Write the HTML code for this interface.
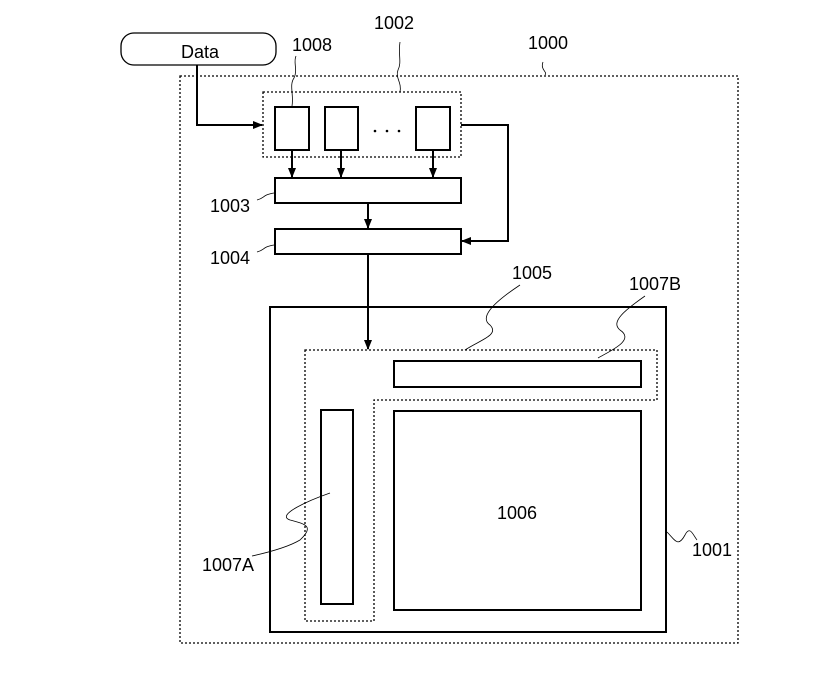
<!DOCTYPE html>
<html><head><style>
body{margin:0;background:#fff}
text{font-family:"Liberation Sans",sans-serif;font-size:18px;fill:#000}
</style></head><body>
<svg width="815" height="673" viewBox="0 0 815 673" xmlns="http://www.w3.org/2000/svg">
<defs><marker id="a" markerWidth="10" markerHeight="10" refX="9" refY="5" orient="auto" markerUnits="userSpaceOnUse"><path d="M0,1 L10,5 L0,9 z" fill="#000"/></marker></defs>
<g fill="none" stroke="#000">
<rect x="180" y="76" width="558" height="567" stroke-dasharray="2,2" stroke-width="1.3"/>
<rect x="121" y="33" width="155" height="32" rx="13" stroke-width="1.3"/>
<rect x="263" y="92" width="198" height="65" stroke-dasharray="2,2" stroke-width="1.3"/>
<rect x="275" y="107" width="34" height="43" stroke-width="2"/>
<rect x="325" y="107" width="33" height="43" stroke-width="2"/>
<rect x="416" y="107" width="34" height="43" stroke-width="2"/>
<rect x="275" y="178" width="186" height="25" stroke-width="2"/>
<rect x="275" y="229" width="186" height="25" stroke-width="2"/>
<path d="M197,65 V125 H262" stroke-width="2" marker-end="url(#a)"/>
<path d="M292,150 V177" stroke-width="2" marker-end="url(#a)"/>
<path d="M341,150 V177" stroke-width="2" marker-end="url(#a)"/>
<path d="M433,150 V177" stroke-width="2" marker-end="url(#a)"/>
<path d="M368,203 V228" stroke-width="2" marker-end="url(#a)"/>
<path d="M461,125 H508 V241 H462" stroke-width="2" marker-end="url(#a)"/>
<rect x="270" y="307" width="396" height="325" stroke-width="2"/>
<path d="M368,254 V349" stroke-width="2" marker-end="url(#a)"/>
<path d="M305,350 H657 V400 H374 V621 H305 Z" stroke-dasharray="2,2" stroke-width="1.3"/>
<rect x="394" y="361" width="247" height="26" stroke-width="2"/>
<rect x="321" y="410" width="32" height="194" stroke-width="2"/>
<rect x="394" y="411" width="247" height="199" stroke-width="2"/>
<path d="M292,106 C294,95 289,85 294,78 C298,70 293,62 296,56" stroke-width="0.8"/>
<path d="M400,92 C402,82 395,78 398,70 C402,62 398,55 400,42" stroke-width="0.8"/>
<path d="M543,62 C540,70 548,72 545,75" stroke-width="0.8"/>
<path d="M257,200 C265,198 262,195 274,193" stroke-width="0.8"/>
<path d="M257,252 C265,250 262,247 274,245" stroke-width="0.8"/>
<path d="M465,350 C480,340 500,335 490,325 C480,318 490,305 520,285" stroke-width="0.8"/>
<path d="M598,358 C612,350 635,340 620,330 C610,322 625,310 645,296" stroke-width="0.8"/>
<path d="M330,493 C310,500 275,515 290,520 C305,524 315,526 300,540 C290,546 270,552 252,556" stroke-width="0.8"/>
<path d="M667,532 C675,540 678,548 685,535 C690,525 693,535 697,540" stroke-width="0.8"/>
</g>
<circle cx="375" cy="131" r="1.3"/><circle cx="387" cy="131" r="1.3"/><circle cx="399" cy="131" r="1.3"/>
<text x="200" y="58" text-anchor="middle">Data</text>
<text x="312" y="51" text-anchor="middle">1008</text>
<text x="394" y="29" text-anchor="middle">1002</text>
<text x="548" y="49" text-anchor="middle">1000</text>
<text x="230" y="212" text-anchor="middle">1003</text>
<text x="230" y="264" text-anchor="middle">1004</text>
<text x="532" y="279" text-anchor="middle">1005</text>
<text x="655" y="290" text-anchor="middle">1007B</text>
<text x="517" y="519" text-anchor="middle">1006</text>
<text x="712" y="556" text-anchor="middle">1001</text>
<text x="228" y="571" text-anchor="middle">1007A</text>
</svg>
</body></html>
